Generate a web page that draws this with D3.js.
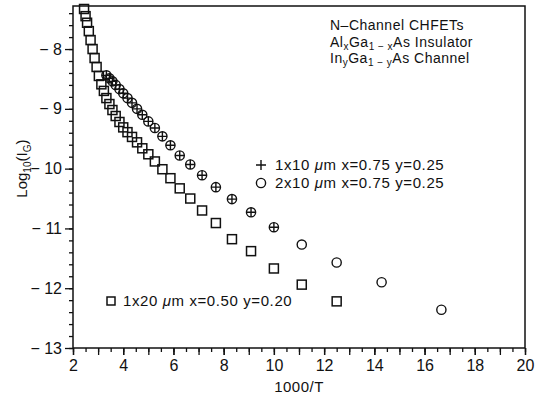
<!DOCTYPE html>
<html>
<head>
<meta charset="utf-8">
<script src="https://cdn.jsdelivr.net/npm/d3@7"></script>
<style>
  body { margin: 0; background: #fff; }
  text { font-family: "Liberation Sans", Arial, sans-serif; fill: #111; }
</style>
</head>
<body>
<div id="chart"></div>
<script>
// values: 1000/T and log10(Ig)

// 1x20 um, x=0.50 y=0.20 (squares)
const sqX = [2.44, 2.50, 2.56, 2.63, 2.70, 2.78, 2.86, 2.94, 3.03, 3.13, 3.23, 3.33, 3.45, 3.57, 3.70, 3.85,
  4.00, 4.17, 4.35, 4.55, 4.76, 5.00, 5.26, 5.56, 5.88, 6.25, 6.67, 7.14, 7.69, 8.33, 9.09, 10.0, 11.11, 12.5];
const sqY = [-7.33, -7.45, -7.56, -7.70, -7.85, -8.00, -8.15, -8.30, -8.45, -8.59, -8.70, -8.82, -8.92, -9.02, -9.12, -9.22,
  -9.31, -9.39, -9.47, -9.56, -9.66, -9.76, -9.88, -10.01, -10.16, -10.33, -10.50, -10.70, -10.91, -11.18, -11.38, -11.67, -11.94, -12.22];

// 2x10 um, x=0.75 y=0.25 (circles)
const ciX = [3.33, 3.45, 3.57, 3.70, 3.85, 4.00, 4.17, 4.35, 4.55, 4.76, 5.00, 5.26, 5.56, 5.88, 6.25, 6.67,
  7.14, 7.69, 8.33, 9.09, 10.0, 11.11, 12.5, 14.29, 16.67];
const ciY = [-8.44, -8.49, -8.54, -8.60, -8.67, -8.74, -8.82, -8.90, -9.00, -9.10, -9.21, -9.32, -9.46, -9.61, -9.78, -9.93,
  -10.11, -10.31, -10.51, -10.73, -10.98, -11.27, -11.57, -11.90, -12.36];

// 1x10 um, x=0.75 y=0.25 (plus) - sits on top of the circles
const plX = [3.33, 3.45, 3.57, 3.70, 3.85, 4.00, 4.17, 4.35, 4.55, 4.76, 5.00, 5.26, 5.56, 5.88, 6.25, 6.67,
  7.14, 7.69, 8.33, 9.09, 10.0];
const plY = [-8.44, -8.49, -8.54, -8.60, -8.67, -8.74, -8.82, -8.90, -9.00, -9.10, -9.21, -9.32, -9.46, -9.61, -9.78, -9.93,
  -10.11, -10.31, -10.51, -10.73, -10.98];

const xTicks = [2, 4, 6, 8, 10, 12, 14, 16, 18, 20];
const yTicks = [-13, -12, -11, -10, -9, -8];

const width = 536, height = 394;
const margin = {top: 6, right: 11, bottom: 46, left: 73};

const svg = d3.select("#chart")
  .append("svg")
  .attr("width", width)
  .attr("height", height);

const xScale = d3.scaleLinear()
  .domain([2, 20])
  .range([margin.left, width - margin.right]);

const yScale = d3.scaleLinear()
  .domain([-13, -7.28])
  .range([height - margin.bottom, margin.top]);

/*
  Axes
*/

// minor ticks first
svg.append("g")
  .attr("transform", `translate(0,${height - margin.bottom})`)
  .call(d3.axisBottom(xScale).tickValues(d3.range(2, 20.01, 0.5)).tickSize(4).tickFormat(""))
  .call(g => g.select(".domain").remove());

svg.append("g")
  .attr("transform", `translate(0,${height - margin.bottom})`)
  .call(d3.axisBottom(xScale).tickValues(d3.range(2, 20.01, 1)).tickSize(7).tickFormat(""))
  .call(g => g.select(".domain").remove());

svg.append("g")
  .attr("transform", `translate(0,${height - margin.bottom})`)
  .call(d3.axisBottom(xScale).tickValues(xTicks).tickSize(7).tickPadding(5).tickFormat(d3.format("d")))
  .attr("font-size", "16px")
  .call(g => g.select(".domain").remove());

svg.append("g")
  .attr("transform", `translate(${margin.left},0)`)
  .call(d3.axisLeft(yScale).tickValues(d3.range(-13, -7.29, 0.2)).tickSize(4).tickFormat(""))
  .call(g => g.select(".domain").remove());

svg.append("g")
  .attr("transform", `translate(${margin.left},0)`)
  .call(d3.axisLeft(yScale).tickValues(yTicks).tickSize(8).tickPadding(3)
    .tickFormat(d => "\u2212 " + Math.abs(d)))
  .attr("font-size", "16px")
  .call(g => g.select(".domain").remove());

svg.selectAll(".tick line").attr("stroke", "#111").attr("stroke-width", 1.3);
svg.selectAll(".tick text").style("fill", "#111").attr("font-family", "Liberation Sans, Arial, sans-serif");

// frame
svg.append("rect")
  .attr("x", margin.left)
  .attr("y", margin.top)
  .attr("width", width - margin.left - margin.right)
  .attr("height", height - margin.top - margin.bottom)
  .attr("fill", "none")
  .attr("stroke", "#111")
  .attr("stroke-width", 1.5);

// axis titles
svg.append("text")
  .attr("x", xScale(11))
  .attr("y", 392)
  .attr("text-anchor", "middle")
  .attr("font-size", "15px")
  .attr("letter-spacing", "0.5px")
  .text("1000/T");

const ylab = svg.append("text")
  .attr("transform", `translate(27,${yScale(-10)}) rotate(-90)`)
  .attr("text-anchor", "middle")
  .attr("font-size", "15px");
ylab.append("tspan").text("Log");
ylab.append("tspan").attr("font-size", "10px").attr("dy", 4).text("10");
ylab.append("tspan").attr("dy", -4).text("(I");
ylab.append("tspan").attr("font-size", "10px").attr("dy", 4).text("G");
ylab.append("tspan").attr("dy", -4).text(")");

/*
  Markers
*/

const sqData = sqX.map((x, i) => ({x: x, y: sqY[i]}));
const ciData = ciX.map((x, i) => ({x: x, y: ciY[i]}));
const plData = plX.map((x, i) => ({x: x, y: plY[i]}));

const s = 9;

svg.selectAll(".sq")
  .data(sqData)
  .enter()
  .append("rect")
    .attr("class", "sq")
    .attr("x", d => xScale(d.x) - s / 2)
    .attr("y", d => yScale(d.y) - s / 2)
    .attr("width", s)
    .attr("height", s)
    .attr("fill", "none")
    .attr("stroke", "#111")
    .attr("stroke-width", 1.5);

svg.selectAll(".ci")
  .data(ciData)
  .enter()
  .append("circle")
    .attr("class", "ci")
    .attr("cx", d => xScale(d.x))
    .attr("cy", d => yScale(d.y))
    .attr("r", 4.6)
    .attr("fill", "none")
    .attr("stroke", "#111")
    .attr("stroke-width", 1.4);

svg.selectAll(".pl")
  .data(plData)
  .enter()
  .append("path")
    .attr("class", "pl")
    .attr("d", d => {
      const cx = xScale(d.x), cy = yScale(d.y);
      return `M${cx - 4.6},${cy}H${cx + 4.6}M${cx},${cy - 4.6}V${cy + 4.6}`;
    })
    .attr("stroke", "#111")
    .attr("stroke-width", 1.4);

/*
  Legend and notes
*/

function legendText(x, y, parts) {
  const t = svg.append("text")
    .attr("x", x)
    .attr("y", y + 5)
    .attr("font-size", "15px")
    .attr("letter-spacing", "0.6px");
  parts.forEach(p => {
    const sp = t.append("tspan").text(p.t);
    if (p.i) sp.attr("font-style", "italic");
  });
  return t;
}

// plus
svg.append("path")
  .attr("d", `M256,165H266M261,160V170`)
  .attr("stroke", "#111").attr("stroke-width", 1.4);
legendText(275, 165, [{t: "1x10 "}, {t: "\u03bc", i: true}, {t: "m x=0.75 y=0.25"}]);

svg.append("circle")
  .attr("cx", 261).attr("cy", 183).attr("r", 4.6)
  .attr("fill", "none").attr("stroke", "#111").attr("stroke-width", 1.4);
legendText(275, 183, [{t: "2x10 "}, {t: "\u03bc", i: true}, {t: "m x=0.75 y=0.25"}]);

svg.append("rect")
  .attr("x", 107).attr("y", 297).attr("width", 8).attr("height", 8)
  .attr("fill", "none").attr("stroke", "#111").attr("stroke-width", 1.5);
legendText(123, 301, [{t: "1x20 "}, {t: "\u03bc", i: true}, {t: "m x=0.50 y=0.20"}]);

// notes
function note(y) {
  return svg.append("text").attr("x", 330).attr("y", y)
    .attr("font-size", "14px").attr("letter-spacing", "0.5px");
}
note(30).text("N\u2013Channel CHFETs");

const n2 = note(47);
n2.append("tspan").text("Al");
n2.append("tspan").attr("font-size", "10px").attr("dy", 3).text("x");
n2.append("tspan").attr("dy", -3).text("Ga");
n2.append("tspan").attr("font-size", "10px").attr("dy", 3).text("1 \u2212 x");
n2.append("tspan").attr("dy", -3).text("As Insulator");

const n3 = note(63);
n3.append("tspan").text("In");
n3.append("tspan").attr("font-size", "10px").attr("dy", 3).text("y");
n3.append("tspan").attr("dy", -3).text("Ga");
n3.append("tspan").attr("font-size", "10px").attr("dy", 3).text("1 \u2212 y");
n3.append("tspan").attr("dy", -3).text("As Channel");
</script>
</body>
</html>
